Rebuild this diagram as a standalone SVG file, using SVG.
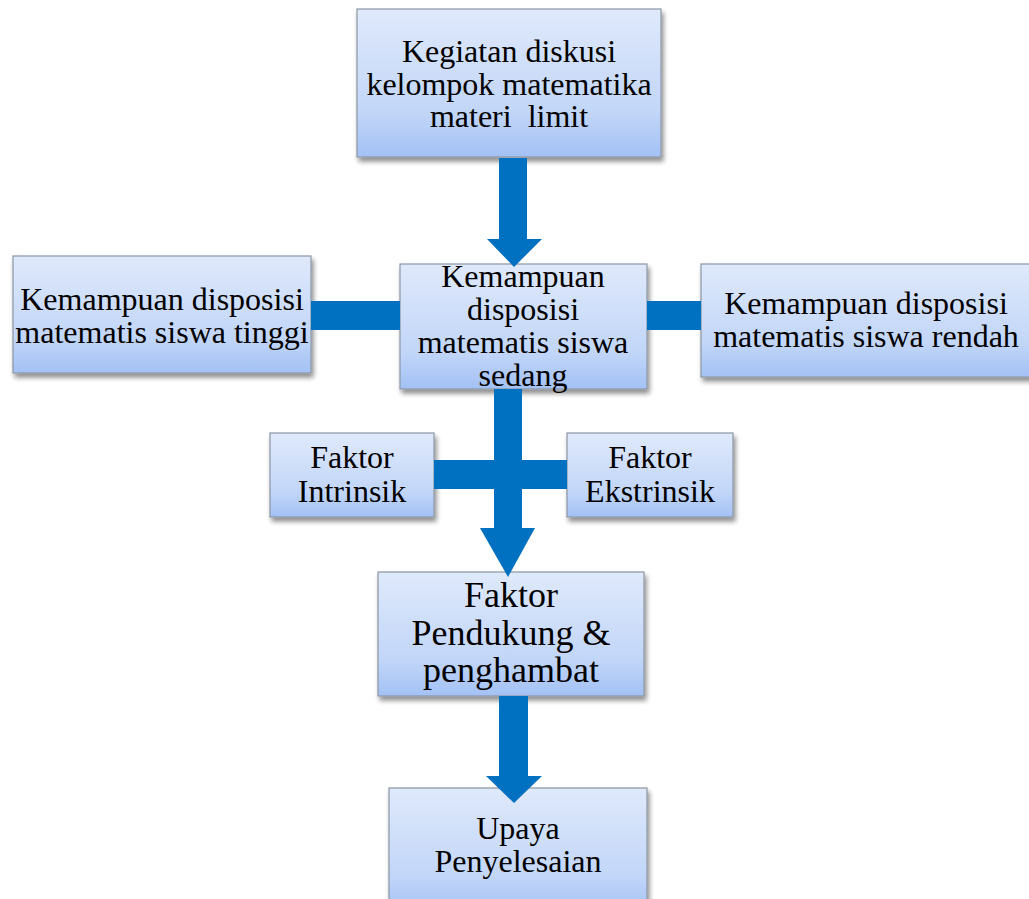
<svg xmlns="http://www.w3.org/2000/svg" width="1029" height="899" viewBox="0 0 1029 899">
<defs>
<linearGradient id="g" x1="0" y1="0" x2="0" y2="1">
<stop offset="0" stop-color="#dfe9fb"/>
<stop offset="0.7" stop-color="#c2d6f8"/>
<stop offset="1" stop-color="#a3c1f5"/>
</linearGradient>
<filter id="sh" x="-10%" y="-10%" width="125%" height="130%">
<feGaussianBlur in="SourceAlpha" stdDeviation="2.5"/>
<feOffset dx="2" dy="4" result="b"/>
<feComponentTransfer><feFuncA type="linear" slope="0.45"/></feComponentTransfer>
<feMerge><feMergeNode/><feMergeNode in="SourceGraphic"/></feMerge>
</filter>
<style>
.box{fill:url(#g);stroke:#8c96a3;stroke-width:1.2;filter:url(#sh)}
.t{font-family:'Liberation Serif','Times New Roman',serif;font-size:32px;fill:#000;text-anchor:middle}
.big{font-size:36px}
.conn{fill:#0070c0}
</style>
</defs>
<rect width="1029" height="899" fill="#fff"/>
<g id="n1">
<rect class="box" x="357" y="9" width="304" height="148"/>
<text class="t" x="509" y="62">Kegiatan diskusi</text>
<text class="t" x="509" y="95">kelompok matematika</text>
<text class="t" x="509" y="127" xml:space="preserve">materi  limit</text>
</g>
<g id="n2">
<rect class="box" x="13" y="256" width="298" height="117"/>
<text class="t" x="162" y="310">Kemampuan disposisi</text>
<text class="t" x="162" y="343">matematis siswa tinggi</text>
</g>
<g id="n3">
<rect class="box" x="400" y="264" width="247" height="125"/>
<text class="t" x="523" y="287">Kemampuan</text>
<text class="t" x="523" y="320">disposisi</text>
<text class="t" x="523" y="353">matematis siswa</text>
<text class="t" x="523" y="386">sedang</text>
</g>
<g id="n4">
<rect class="box" x="701" y="264" width="332" height="113"/>
<text class="t" x="866" y="314">Kemampuan disposisi</text>
<text class="t" x="866" y="347">matematis siswa rendah</text>
</g>
<g id="n5">
<rect class="box" x="270" y="433" width="164" height="84"/>
<text class="t" x="352" y="468">Faktor</text>
<text class="t" x="352" y="502">Intrinsik</text>
</g>
<g id="n6">
<rect class="box" x="567" y="433" width="166" height="84"/>
<text class="t" x="650" y="468">Faktor</text>
<text class="t" x="650" y="502">Ekstrinsik</text>
</g>
<g id="n7">
<rect class="box" x="378" y="572" width="266" height="124"/>
<text class="t big" x="511" y="607">Faktor</text>
<text class="t big" x="511" y="645">Pendukung &amp;</text>
<text class="t big" x="511" y="682">penghambat</text>
</g>
<g id="n8">
<rect class="box" x="389" y="788" width="258" height="125"/>
<text class="t" x="518" y="839">Upaya</text>
<text class="t" x="518" y="872">Penyelesaian</text>
</g>
<g id="connectors">
<rect class="conn" x="499" y="158" width="28" height="82"/>
<polygon class="conn" points="487,239 542,239 514,267"/>
<rect class="conn" x="311" y="301" width="89" height="29"/>
<rect class="conn" x="647" y="301" width="54" height="29"/>
<rect class="conn" x="494" y="389" width="28" height="141"/>
<rect class="conn" x="434" y="460" width="133" height="29"/>
<polygon class="conn" points="480,528 535,528 508,577"/>
<rect class="conn" x="499" y="696" width="29" height="81"/>
<polygon class="conn" points="486,776 542,776 514,803"/>
</g>
</svg>
